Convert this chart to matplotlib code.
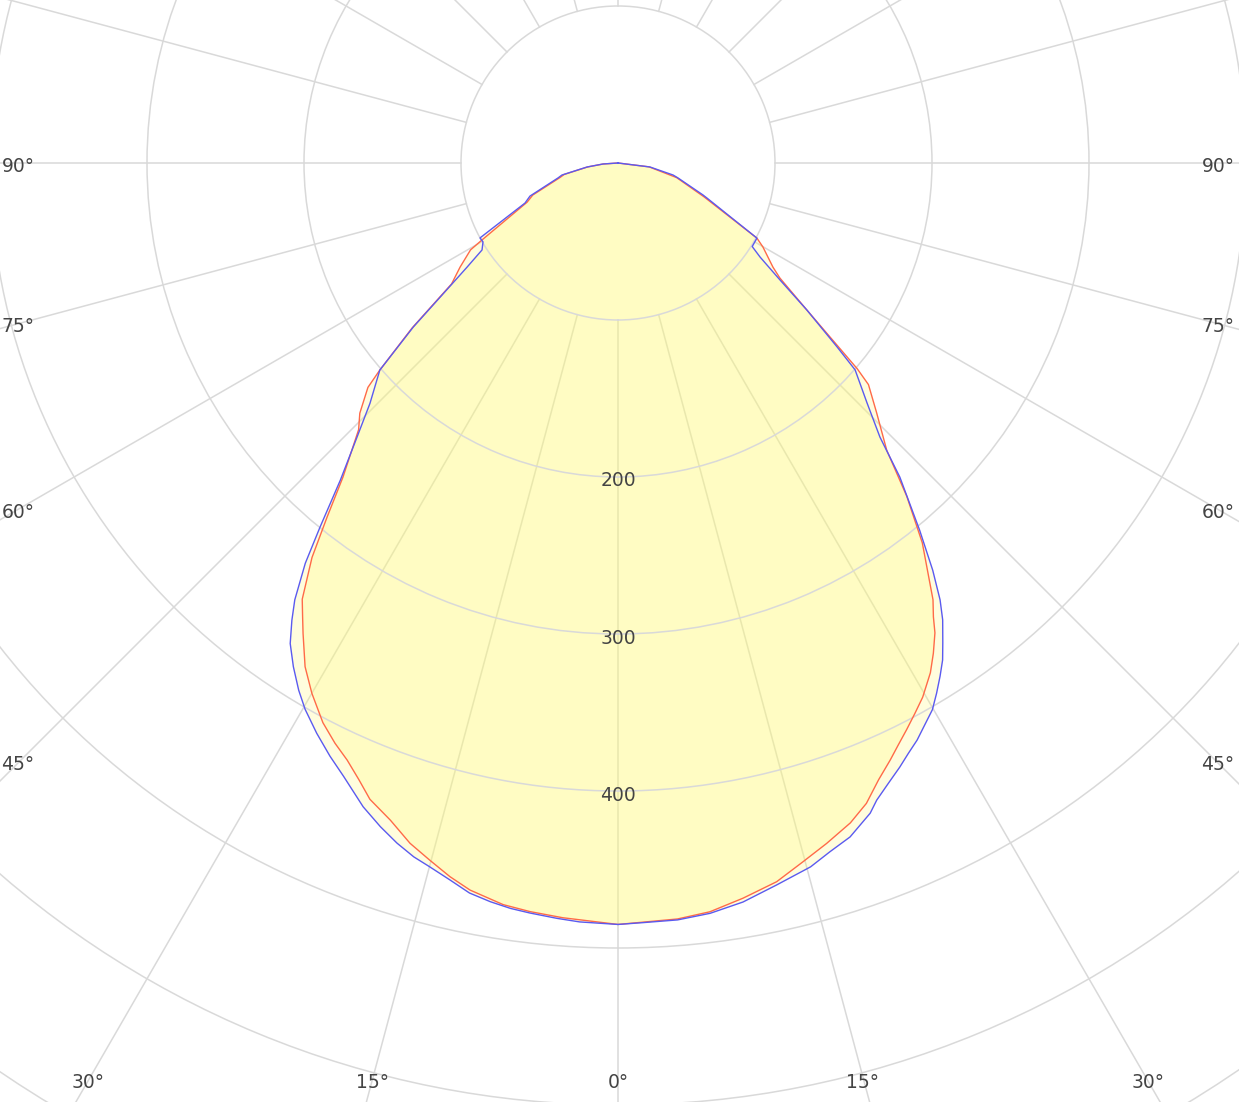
import numpy as np
import matplotlib
matplotlib.use("Agg")
import matplotlib.pyplot as plt
from matplotlib.transforms import offset_copy

# ---- data (gamma angle in degrees, luminous intensity) ----
BLUE_LEFT_ANGLES = [0, 2.9, 4.6, 6.7, 8.2, 9.8, 11.5, 13.2, 15.0, 16.4, 18.0, 19.7, 21.6, 24.1,
                    25.9, 27.85, 29.8, 31.2, 32.8, 34.3, 35.5, 36.5, 38.0, 39.3, 41.2, 43.6, 45.9,
                    49.0, 51.3, 54.0, 55.4, 57.4, 59.7, 61.5, 66.7, 69.4, 76.0, 77.9, 82.6, 86.2, 90]
BLUE_LEFT_VALUES = [485, 484, 482.7, 481, 479.7, 477.5, 474.5, 469, 464, 460.7, 455.5, 449, 441, 428,
                    420, 410.8, 401, 392.6, 381.7, 370.5, 357.7, 346.1, 323.5, 299.6, 268.5, 241, 220,
                    201, 167, 130, 116.8, 102.8, 99.6, 100, 64.5, 59.9, 39.4, 36.5, 19.9, 9.6, 0]
BLUE_RIGHT_ANGLES = [0, 1.9, 4.5, 7.0, 9.6, 12.4, 15.3, 17.1, 19.0, 21.2, 22.1, 23.55, 25.0, 26.2,
                     27.4, 28.6, 29.9, 31.0, 32.1, 33.15, 34.1, 35.4, 36.4, 37.7, 39.4, 41.9, 43.7,
                     46.1, 48.9, 50.0, 52.1, 54.2, 56.5, 58.1, 61.6, 68.5, 69.4, 76.0, 77.7, 82.9, 90]
BLUE_RIGHT_VALUES = [485, 484.1, 483.6, 481.5, 477.4, 470.8, 464.8, 459, 454, 444.2, 438, 431, 424.6, 419,
                     414, 407.9, 401.7, 394, 386, 378.1, 369, 357, 345.7, 327.8, 302.7, 268.8, 241.5,
                     220, 200.4, 182, 152.5, 127, 108.5, 100.7, 100.6, 60.9, 57.8, 39.4, 35.9, 20.5, 0]
RED_LEFT_ANGLES = [0, 4.2, 6.7, 8.8, 11.5, 13.25, 15.1, 17.0, 19.1, 21.3, 22.8, 24.4, 26.0, 27.8,
                   30.0, 31.85, 33.8, 34.8, 35.9, 37.8, 39.4, 41.2, 44.2, 45.9, 48.1, 49.0, 51.3,
                   54.0, 56.6, 59.5, 60.5, 66.7, 69.4, 76.0, 78.0, 82.6, 86.2, 90]
RED_LEFT_VALUES = [485, 482, 480.1, 478, 472.6, 467, 460, 453.1, 443, 435, 426, 417.6, 411.2, 403,
                   390, 377.7, 360.6, 352, 343, 318, 292, 266, 237, 229, 214, 201, 168,
                   131, 120.5, 109, 99.5, 63, 58, 38, 35, 19.5, 9.4, 0]
RED_RIGHT_ANGLES = [0, 4.5, 7.0, 9.65, 12.45, 14.8, 17.05, 19.4, 21.2, 22.9, 24.5, 25.7, 27.0, 28.35,
                    29.7, 31.5, 32.75, 34.0, 34.8, 35.8, 38.7, 40.9, 43.1, 46.0, 48.5, 49.3, 52.1,
                    54.6, 56.1, 59.9, 61.6, 68.5, 76.0, 82.9, 90]
RED_RIGHT_VALUES = [485, 483, 480.5, 475, 468.8, 460.5, 453.3, 445.6, 437.5, 426.5, 418, 411.5, 405, 398.3,
                    391.7, 380.8, 371.3, 361, 352, 343, 310, 281, 250.5, 229, 213, 201, 152.5,
                    126.5, 118.9, 106.7, 100.6, 59, 38.5, 20, 0]

RADIAL_TICKS = [100, 200, 300, 400, 500, 600, 700]
RADIAL_LABELS = [200, 300, 400]
SPOKE_ANGLES = list(range(0, 360, 15))
ANGLE_LABELS = [  # text, x px, y px
    ("90°", 18, 163), ("90°", 1218, 163),
    ("75°", 18, 323), ("75°", 1218, 323),
    ("60°", 18, 509), ("60°", 1218, 509),
    ("45°", 18, 761), ("45°", 1218, 761),
    ("30°", 88, 1080), ("15°", 372, 1080), ("0°", 618, 1080),
    ("15°", 862, 1080), ("30°", 1148, 1080),
]

W, H = 1239, 1102
DPI = 100
CX, CY = 618, 163          # pole position in pixels (from top)
PX_PER_UNIT = 1.57
RMAX = 720
GRID_COLOR = "#d9d9d9"
TEXT_COLOR = "#444444"

fig = plt.figure(figsize=(W / DPI, H / DPI), dpi=DPI)
fig.patch.set_facecolor("white")
rad = RMAX * PX_PER_UNIT
ax = fig.add_axes([(CX - rad) / W, (H - CY - rad) / H, 2 * rad / W, 2 * rad / H],
                  projection="polar")
ax.set_theta_zero_location("S")
ax.set_theta_direction(1)
ax.set_rlim(0, RMAX)
ax.spines["polar"].set_visible(False)
ax.set_facecolor("none")

# radial circles
ax.set_rgrids(RADIAL_TICKS, labels=[""] * len(RADIAL_TICKS))
ax.yaxis.grid(True, color=GRID_COLOR, linewidth=1.1)
ax.xaxis.grid(False)
ax.set_xticks([])
ax.tick_params(axis="both", length=0)

# spokes starting at the 100 circle
for a in SPOKE_ANGLES:
    t = np.deg2rad(a)
    ax.plot([t, t], [100, RMAX], color=GRID_COLOR, linewidth=1.1, zorder=0.6)


def curve(la, lv, ra, rv):
    la = np.asarray(la, float); lv = np.asarray(lv, float)
    ra = np.asarray(ra, float); rv = np.asarray(rv, float)
    ang = np.concatenate([-la[::-1], ra[1:]])
    val = np.concatenate([lv[::-1], rv[1:]])
    return np.deg2rad(ang), val


tb, vb = curve(BLUE_LEFT_ANGLES, BLUE_LEFT_VALUES, BLUE_RIGHT_ANGLES, BLUE_RIGHT_VALUES)
tr, vr = curve(RED_LEFT_ANGLES, RED_LEFT_VALUES, RED_RIGHT_ANGLES, RED_RIGHT_VALUES)

ax.fill(tb, vb, color="#FFFA78", alpha=0.25, linewidth=0, zorder=1)
ax.fill(tr, vr, color="#FFFA78", alpha=0.25, linewidth=0, zorder=1)
ax.plot(tr, vr, color="#FF6A48", linewidth=1.0, zorder=2, solid_joinstyle="round")
ax.plot(tb, vb, color="#5A5AF0", linewidth=1.0, zorder=2.1, solid_joinstyle="round")

lab_tr = offset_copy(ax.transData, fig=fig, x=0, y=-4, units="dots")
for v in RADIAL_LABELS:
    ax.text(0, v, str(v), ha="center", va="center", fontsize=13.5,
            color=TEXT_COLOR, zorder=3, transform=lab_tr)

for txt, x, y in ANGLE_LABELS:
    fig.text(x / W, 1 - (y + 3) / H, txt, ha="center", va="center", fontsize=13.5,
             color=TEXT_COLOR)

fig.savefig("out.png", dpi=DPI, facecolor="white")
